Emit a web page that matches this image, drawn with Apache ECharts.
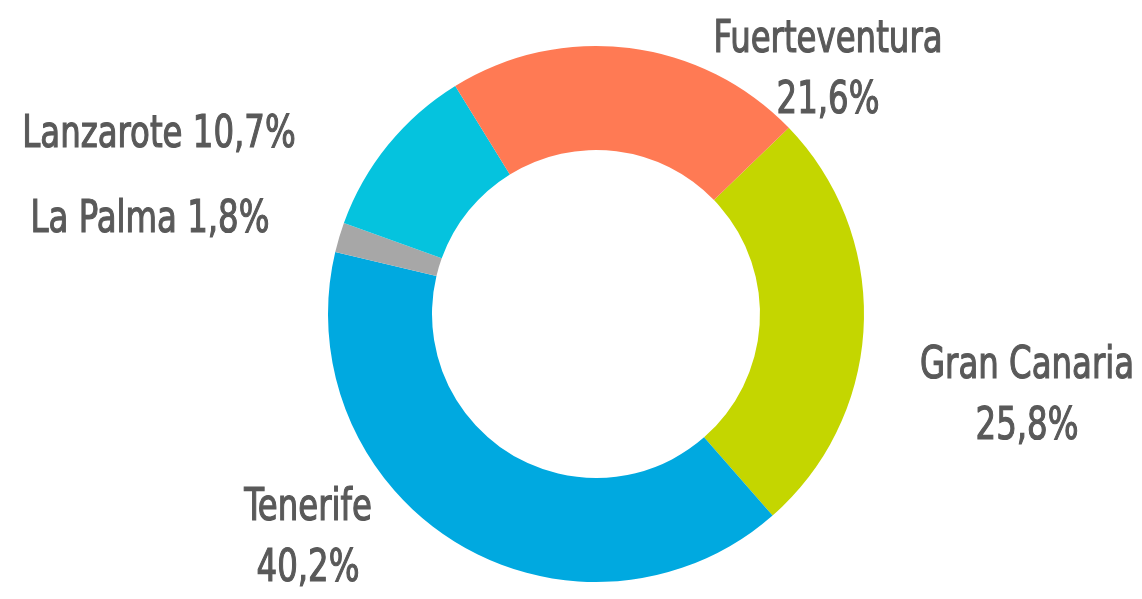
<!DOCTYPE html>
<html>
<head>
<meta charset="utf-8">
<script src="https://cdn.jsdelivr.net/npm/echarts@6/dist/echarts.min.js"></script>
<style>
html,body{margin:0;padding:0;background:#fff;}
#chart{width:1142px;height:599px;}
</style>
</head>
<body>
<div id="chart"></div>
<script>
const islands = ['Gran Canaria', 'Tenerife', 'La Palma', 'Lanzarote', 'Fuerteventura'];
const shares = [25.8, 40.2, 1.8, 10.7, 21.6];
const colors = ['#C4D600', '#00A9E0', '#A7A7A7', '#05C3DE', '#FF7A54'];

// label placement (style only)
const labelPos = {
  'Gran Canaria': { x: 1027, y: 397, oneLine: false },
  'Tenerife': { x: 308, y: 539, oneLine: false },
  'La Palma': { x: 150, y: 220, oneLine: true },
  'Lanzarote': { x: 159, y: 135, oneLine: true },
  'Fuerteventura': { x: 828, y: 71, oneLine: false }
};

const fmt = v => v.toFixed(1).replace('.', ',') + '%';

const labels = islands.map((n, i) => {
  const pos = labelPos[n];
  return {
    type: 'text',
    x: pos.x,
    y: pos.y,
    scaleX: 0.8,
    silent: true,
    style: {
      text: pos.oneLine ? n + ' ' + fmt(shares[i]) : n + '\n' + fmt(shares[i]),
      x: 0, y: 0,
      align: 'center',
      verticalAlign: 'middle',
      fill: '#595959',
      stroke: '#595959',
      lineWidth: 1.2,
      fontFamily: '"DejaVu Sans Condensed", "DejaVu Sans", sans-serif',
      fontSize: 45,
      lineHeight: 61
    }
  };
});

const chart = echarts.init(document.getElementById('chart'), null, { renderer: 'canvas' });
chart.setOption({
  animation: false,
  backgroundColor: '#ffffff',
  graphic: labels,
  series: [{
    type: 'pie',
    center: [596, 314],
    radius: [164, 268],
    startAngle: 44,
    clockwise: true,
    itemStyle: { borderWidth: 0 },
    label: { show: false },
    labelLine: { show: false },
    data: islands.map((n, i) => ({ name: n, value: shares[i], itemStyle: { color: colors[i] } }))
  }]
});
</script>
</body>
</html>
